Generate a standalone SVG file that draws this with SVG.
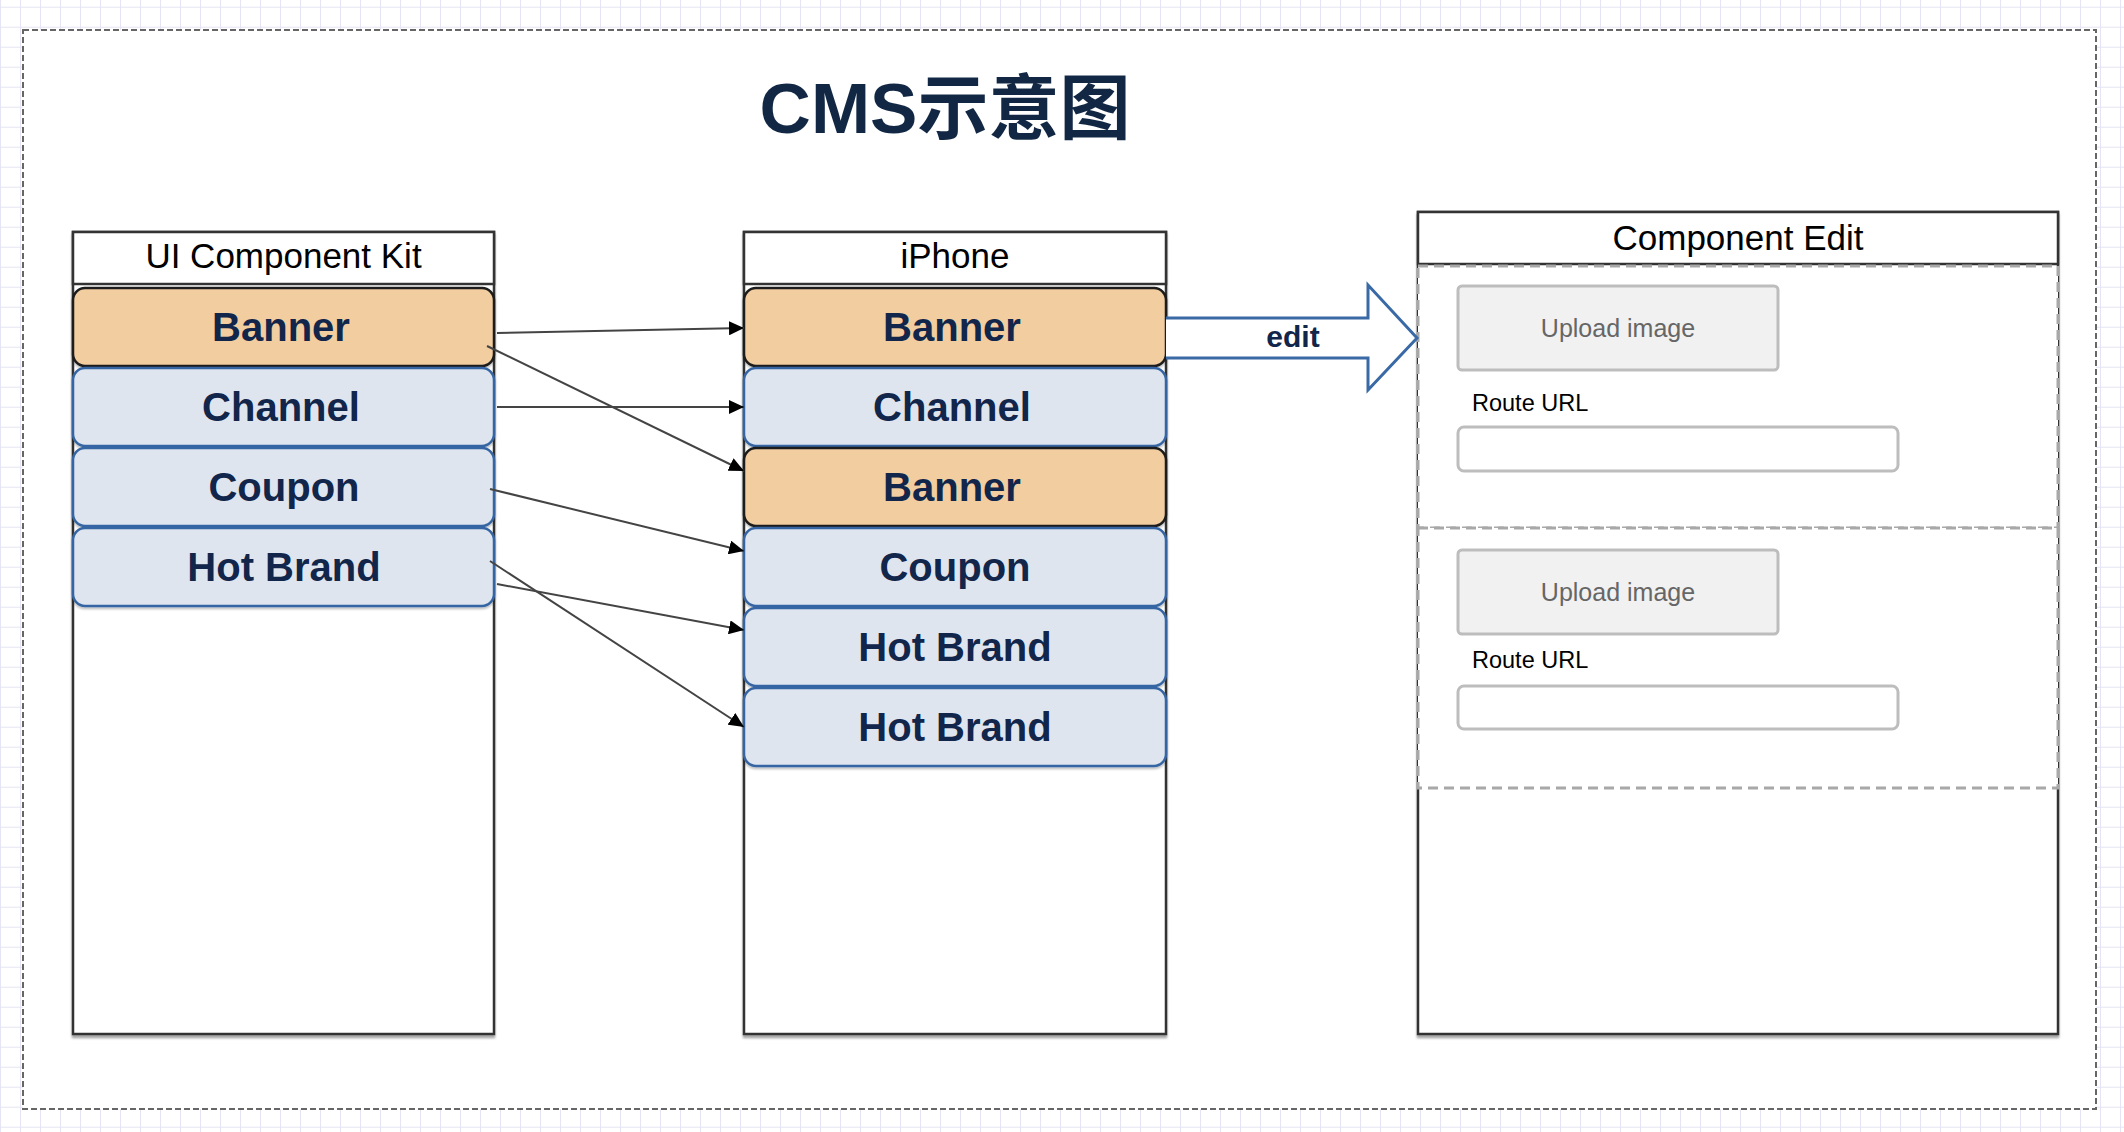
<svg xmlns="http://www.w3.org/2000/svg" width="2124" height="1132" viewBox="0 0 2124 1132">
<defs>
<pattern id="grid" patternUnits="userSpaceOnUse" x="0" y="6.7" width="20" height="20">
<path d="M0,0.5 H20 M0.5,0 V20" fill="none" stroke="#e4e4f4" stroke-width="1"/>
</pattern>
<filter id="sh" x="-5%" y="-5%" width="110%" height="115%">
<feDropShadow dx="0" dy="3" stdDeviation="1.2" flood-color="#000" flood-opacity="0.35"/>
</filter>
<filter id="ish" x="-5%" y="-10%" width="110%" height="130%">
<feDropShadow dx="0" dy="2" stdDeviation="1.2" flood-color="#000" flood-opacity="0.25"/>
</filter>
<marker id="arr" markerUnits="userSpaceOnUse" viewBox="0 0 15 14" markerWidth="15" markerHeight="14" refX="15" refY="7" orient="auto">
<path d="M0,0 L15,7 L0,14 z" fill="#000"/>
</marker>
</defs>
<style>
.col{fill:#fff;stroke:#333;stroke-width:2.5}
.hdr{font-family:"Liberation Sans",Arial,sans-serif;font-size:35px;fill:#000;text-anchor:middle}
.peach{fill:#f2cda0;stroke:#1a1a1a;stroke-width:2.5}
.blue{fill:#dfe5ef;stroke:#3565a3;stroke-width:2.5}
.it{font-family:"Liberation Sans",Arial,sans-serif;font-weight:bold;font-size:40px;fill:#11264a;text-anchor:middle}
.up{fill:#f1f1f1;stroke:#bdbdbd;stroke-width:3}
.upt{font-family:"Liberation Sans",Arial,sans-serif;font-size:25px;fill:#666;text-anchor:middle}
.rt{font-family:"Liberation Sans",Arial,sans-serif;font-size:23.5px;fill:#000}
.inp{fill:#fff;stroke:#bdbdbd;stroke-width:3}
.sec{fill:#fff;stroke:#a8a8a8;stroke-width:3;stroke-dasharray:10 6}
.conn line{stroke:#444;stroke-width:2;marker-end:url(#arr)}
</style>
<rect x="0" y="0" width="2124" height="1132" fill="#fff"/>
<rect x="0" y="0" width="2124" height="1132" fill="url(#grid)"/>
<rect id="frame" x="23" y="30" width="2073" height="1079" fill="#fff" stroke="#666" stroke-width="2" stroke-dasharray="6 3"/>

<g id="title">
<text x="945" y="133" font-family="'Liberation Sans','Noto Sans CJK SC',sans-serif" font-weight="bold" font-size="71" fill="#112744" text-anchor="middle">CMS示意图</text>
</g>

<g id="ui-kit">
<rect class="col" x="73" y="232" width="421" height="802" filter="url(#sh)"/>
<rect class="col" x="73" y="232" width="421" height="52"/>
<text class="hdr" x="283.5" y="268">UI Component Kit</text>
</g>
<g id="kit-banner"><rect class="peach" x="73" y="288" width="421" height="78" rx="12" filter="url(#ish)"/><text class="it" x="281" y="341">Banner</text></g>
<g id="kit-channel"><rect class="blue" x="73" y="368" width="421" height="78" rx="12" filter="url(#ish)"/><text class="it" x="281" y="421">Channel</text></g>
<g id="kit-coupon"><rect class="blue" x="73" y="448" width="421" height="78" rx="12" filter="url(#ish)"/><text class="it" x="284" y="501">Coupon</text></g>
<g id="kit-hotbrand"><rect class="blue" x="73" y="528" width="421" height="78" rx="12" filter="url(#ish)"/><text class="it" x="284" y="581">Hot Brand</text></g>

<g id="iphone">
<rect class="col" x="744" y="232" width="422" height="802" filter="url(#sh)"/>
<rect class="col" x="744" y="232" width="422" height="52"/>
<text class="hdr" x="955" y="268">iPhone</text>
</g>
<g id="ph-banner1"><rect class="peach" x="744" y="288" width="422" height="78" rx="12" filter="url(#ish)"/><text class="it" x="952" y="341">Banner</text></g>
<g id="ph-channel"><rect class="blue" x="744" y="368" width="422" height="78" rx="12" filter="url(#ish)"/><text class="it" x="952" y="421">Channel</text></g>
<g id="ph-banner2"><rect class="peach" x="744" y="448" width="422" height="78" rx="12" filter="url(#ish)"/><text class="it" x="952" y="501">Banner</text></g>
<g id="ph-coupon"><rect class="blue" x="744" y="528" width="422" height="78" rx="12" filter="url(#ish)"/><text class="it" x="955" y="581">Coupon</text></g>
<g id="ph-hotbrand1"><rect class="blue" x="744" y="608" width="422" height="78" rx="12" filter="url(#ish)"/><text class="it" x="955" y="661">Hot Brand</text></g>
<g id="ph-hotbrand2"><rect class="blue" x="744" y="688" width="422" height="78" rx="12" filter="url(#ish)"/><text class="it" x="955" y="741">Hot Brand</text></g>

<g id="component-edit">
<rect class="col" x="1418" y="212" width="640" height="822" filter="url(#sh)"/>
<rect class="col" x="1418" y="212" width="640" height="52"/>
<text class="hdr" x="1738" y="250">Component Edit</text>
</g>
<g id="edit-section-1">
<rect class="sec" x="1418" y="266" width="640" height="262"/>
<rect class="up" x="1458" y="286" width="320" height="84" rx="4"/>
<text class="upt" x="1618" y="337">Upload image</text>
<text class="rt" x="1472" y="411">Route URL</text>
<rect class="inp" x="1458" y="427" width="440" height="44" rx="6"/>
</g>
<g id="edit-section-2">
<rect class="sec" x="1418" y="528" width="640" height="260"/>
<rect class="up" x="1458" y="550" width="320" height="84" rx="4"/>
<text class="upt" x="1618" y="601">Upload image</text>
<text class="rt" x="1472" y="668">Route URL</text>
<rect class="inp" x="1458" y="686" width="440" height="43" rx="6"/>
</g>

<g id="edit-arrow">
<path d="M1166,318 L1368,318 L1368,285 L1417,338 L1368,390 L1368,358 L1166,358" fill="#fff" stroke="#3a6aa6" stroke-width="3" stroke-linejoin="miter"/>
<text x="1293" y="347" font-family="'Liberation Sans',Arial,sans-serif" font-weight="bold" font-size="30" fill="#11264a" text-anchor="middle">edit</text>
</g>

<g id="connectors" class="conn">
<line x1="497" y1="333" x2="744" y2="328"/>
<line x1="487" y1="346" x2="744" y2="471"/>
<line x1="497" y1="407" x2="744" y2="407"/>
<line x1="490" y1="489" x2="744" y2="551"/>
<line x1="497" y1="584" x2="744" y2="630"/>
<line x1="490" y1="561" x2="744" y2="727"/>
</g>
</svg>
